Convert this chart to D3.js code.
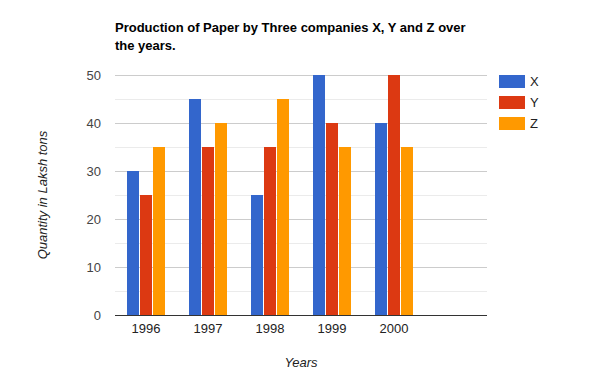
<!DOCTYPE html>
<html>
<head>
<meta charset="utf-8">
<script src="https://cdn.jsdelivr.net/npm/d3@7"></script>
<style>
  body { margin: 0; background: #fff; }
  svg { font-family: "Liberation Sans", Arial, sans-serif; }
</style>
</head>
<body>
<svg id="Chart" width="600" height="390"></svg>
<script>
// data
let years = ["1996", "1997", "1998", "1999", "2000", ""]
let companies = ["X", "Y", "Z"]
let xValues = [30, 45, 25, 50, 40]
let yValues = [25, 35, 35, 40, 50]
let zValues = [35, 40, 45, 35, 35]
let yTicks = [0, 10, 20, 30, 40, 50]
let minorTicks = [5, 15, 25, 35, 45]
let colors = ["#3366cc", "#dc3912", "#ff9900"]

let config = {}

function initConfig() {
    let width = 600
    let height = 390
    let left = 115, right = 487, top = 75, bottom = 315
    let container = d3.select("#Chart")
    config = {width, height, left, right, top, bottom, container}
}

function drawChart() {
    let {container, left, right, top, bottom} = config
    let series = [xValues, yValues, zValues]

    let x = d3.scaleBand().domain(years).range([left, right])
    let inner = d3.scaleBand().domain(companies).range([0, 38]).paddingInner(1 / 13)
    let y = d3.scaleLinear().domain([0, 50]).range([bottom, top])

    // minor gridlines
    container.append("g").selectAll("line").data(minorTicks)
        .enter().append("line")
        .attr("x1", left).attr("x2", right)
        .attr("y1", d => Math.round(y(d)) + 0.5).attr("y2", d => Math.round(y(d)) + 0.5)
        .attr("stroke", "#ebebeb")

    // major gridlines
    container.append("g").selectAll("line").data(yTicks.slice(1))
        .enter().append("line")
        .attr("x1", left).attr("x2", right)
        .attr("y1", d => Math.round(y(d)) + 0.5).attr("y2", d => Math.round(y(d)) + 0.5)
        .attr("stroke", "#cccccc")

    // bars
    series.forEach((vals, si) => {
        container.append("g").selectAll("rect").data(vals)
            .enter().append("rect")
            .attr("x", (d, i) => Math.round(x(years[i]) + x.bandwidth() / 2 - 19) + inner(companies[si]))
            .attr("y", d => y(d))
            .attr("width", inner.bandwidth())
            .attr("height", d => bottom - y(d))
            .attr("fill", colors[si])
    })

    // baseline
    container.append("line")
        .attr("x1", left).attr("x2", right)
        .attr("y1", bottom + 0.5).attr("y2", bottom + 0.5)
        .attr("stroke", "#333333")

    // y tick labels
    container.append("g").selectAll("text").data(yTicks)
        .enter().append("text")
        .attr("x", 101)
        .attr("y", d => y(d) + 5)
        .attr("text-anchor", "end")
        .attr("font-size", "13px")
        .attr("fill", "#444")
        .text(d => d)

    // x tick labels
    container.append("g").selectAll("text").data(years.filter(d => d))
        .enter().append("text")
        .attr("x", d => x(d) + x.bandwidth() / 2)
        .attr("y", 333)
        .attr("text-anchor", "middle")
        .attr("font-size", "13px")
        .attr("fill", "#222")
        .text(d => d)
}

function drawText() {
    let {container} = config

    container.append("text")
        .attr("x", 115).attr("y", 32)
        .attr("font-size", "13px")
        .attr("font-weight", "bold")
        .attr("fill", "#000")
        .text("Production of Paper by Three companies X, Y and Z over")
    container.append("text")
        .attr("x", 115).attr("y", 50)
        .attr("font-size", "13px")
        .attr("font-weight", "bold")
        .attr("fill", "#000")
        .text("the years.")

    container.append("text")
        .attr("x", 301).attr("y", 367)
        .attr("text-anchor", "middle")
        .attr("font-size", "13px")
        .attr("font-style", "italic")
        .attr("fill", "#222")
        .text("Years")

    container.append("text")
        .attr("transform", "translate(47,195) rotate(-90)")
        .attr("text-anchor", "middle")
        .attr("font-size", "13px")
        .attr("font-style", "italic")
        .attr("fill", "#222")
        .text("Quantity in Laksh tons")
}

function drawLegend() {
    let {container} = config
    let items = container.append("g").selectAll("g").data(companies)
        .enter().append("g")
        .attr("transform", (d, i) => `translate(499,${75 + i * 21})`)
    items.append("rect")
        .attr("width", 26).attr("height", 13)
        .attr("fill", (d, i) => colors[i])
    items.append("text")
        .attr("x", 31).attr("y", 11)
        .attr("font-size", "13px")
        .attr("fill", "#222")
        .text(d => d)
}

initConfig()
drawChart()
drawText()
drawLegend()
</script>
</body>
</html>
